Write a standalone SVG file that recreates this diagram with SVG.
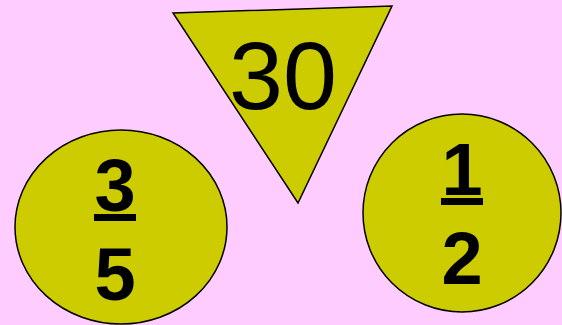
<svg xmlns="http://www.w3.org/2000/svg" width="562" height="325" viewBox="0 0 562 325">
<style>
.shape{fill:#CCCC00;stroke:#000;stroke-width:1.5}
.num{font-family:"Liberation Sans",Arial,sans-serif;fill:#000;text-anchor:middle}
.b{font-weight:bold;font-size:74px}
.bar{fill:#000}
</style>
<rect width="562" height="325" fill="#FFCCFF"/>
<g id="triangle">
<polygon class="shape" points="173,13 392,6 298,203"/>
<text class="num" x="283" y="109" font-size="97">30</text>
</g>
<g id="left-circle">
<ellipse class="shape" cx="121" cy="227" rx="106" ry="97"/>
<text class="num b" x="115" y="211">3</text>
<rect class="bar" x="94" y="214" width="42" height="7"/>
<text class="num b" x="115" y="300">5</text>
</g>
<g id="right-circle">
<ellipse class="shape" cx="462" cy="213" rx="99" ry="99"/>
<text class="num b" x="462" y="195">1</text>
<rect class="bar" x="441" y="198" width="42" height="7"/>
<text class="num b" x="462" y="284">2</text>
</g>
<g id="connectors"/>
</svg>
